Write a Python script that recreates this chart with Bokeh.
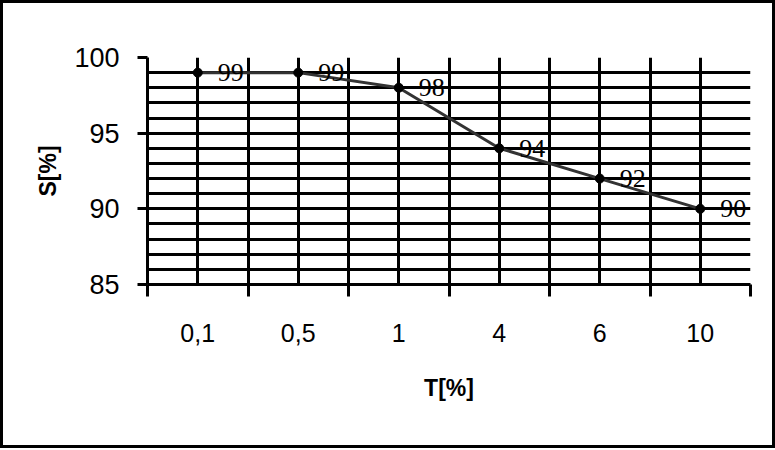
from bokeh.plotting import figure
from bokeh.models import Range1d, FixedTicker
from bokeh.core.properties import value
from bokeh.embed import file_html
from bokeh.resources import INLINE

# ---- data ----
categories = ["0,1", "0,5", "1", "4", "6", "10"]
s_values = [99, 99, 98, 94, 92, 90]
y_ticks = [85, 90, 95, 100]
y_min, y_max = 85, 100

n = len(categories)
xs = [i + 0.5 for i in range(n)]

p = figure(width=769, height=442, output_backend="svg", toolbar_location=None,
           x_range=Range1d(0, n), y_range=Range1d(y_min, y_max),
           min_border_left=144, min_border_right=22, min_border_top=54,
           min_border_bottom=161, margin=(3, 3, 3, 3))
p.styles = {"outline": "3px solid black", "outline-offset": "0px"}
p.outline_line_color = None
p.background_fill_color = "white"
p.border_fill_color = "white"

# grids
p.xgrid.ticker = FixedTicker(ticks=[k / 2 for k in range(1, 2 * n)])
p.ygrid.ticker = FixedTicker(ticks=list(range(y_min + 1, y_max)))
for g in (p.xgrid, p.ygrid):
    g.grid_line_color = "black"
    g.grid_line_width = 3

# x axis
xa = p.xaxis[0]
xa.ticker = FixedTicker(ticks=xs, minor_ticks=list(range(n + 1)))
xa.major_label_overrides = {x: c for x, c in zip(xs, categories)}
xa.major_tick_in = 0
xa.major_tick_out = 0
xa.minor_tick_in = 0
xa.minor_tick_out = 12
xa.minor_tick_line_width = 3
xa.minor_tick_line_color = "black"
xa.axis_line_width = 3
xa.axis_line_color = "black"
xa.major_label_standoff = 27
xa.major_label_text_font = "Liberation Sans"
xa.major_label_text_font_size = "25px"
xa.major_label_text_color = "black"
xa.axis_label = "T[%]"
xa.axis_label_text_font = "Liberation Sans"
xa.axis_label_text_font_style = "bold"
xa.axis_label_text_font_size = "23px"
xa.axis_label_text_color = "black"
xa.axis_label_standoff = 30

# y axis
ya = p.yaxis[0]
ya.ticker = FixedTicker(ticks=y_ticks)
ya.major_tick_in = 0
ya.major_tick_out = 10
ya.major_tick_line_width = 3
ya.minor_tick_line_color = None
ya.axis_line_width = 3
ya.axis_line_color = "black"
ya.major_label_standoff = 18
ya.major_label_text_font = "Liberation Sans"
ya.major_label_text_font_size = "27px"
ya.major_label_text_color = "black"
ya.axis_label = "S[%]"
ya.axis_label_text_font = "Liberation Sans"
ya.axis_label_text_font_style = "bold"
ya.axis_label_text_font_size = "23px"
ya.axis_label_text_color = "black"
ya.axis_label_standoff = 10

# series line, markers and data labels
p.line(xs, s_values, line_color="#333333", line_width=3)
p.scatter(xs, s_values, size=9, fill_color="black", line_color="black")
p.text(xs, s_values, text=[str(v) for v in s_values], x_offset=20,
       text_align="left", text_baseline="middle",
       text_font=value("Liberation Serif"), text_font_size="26px",
       text_color="black")

open("out.html", "w").write(file_html(p, INLINE))
